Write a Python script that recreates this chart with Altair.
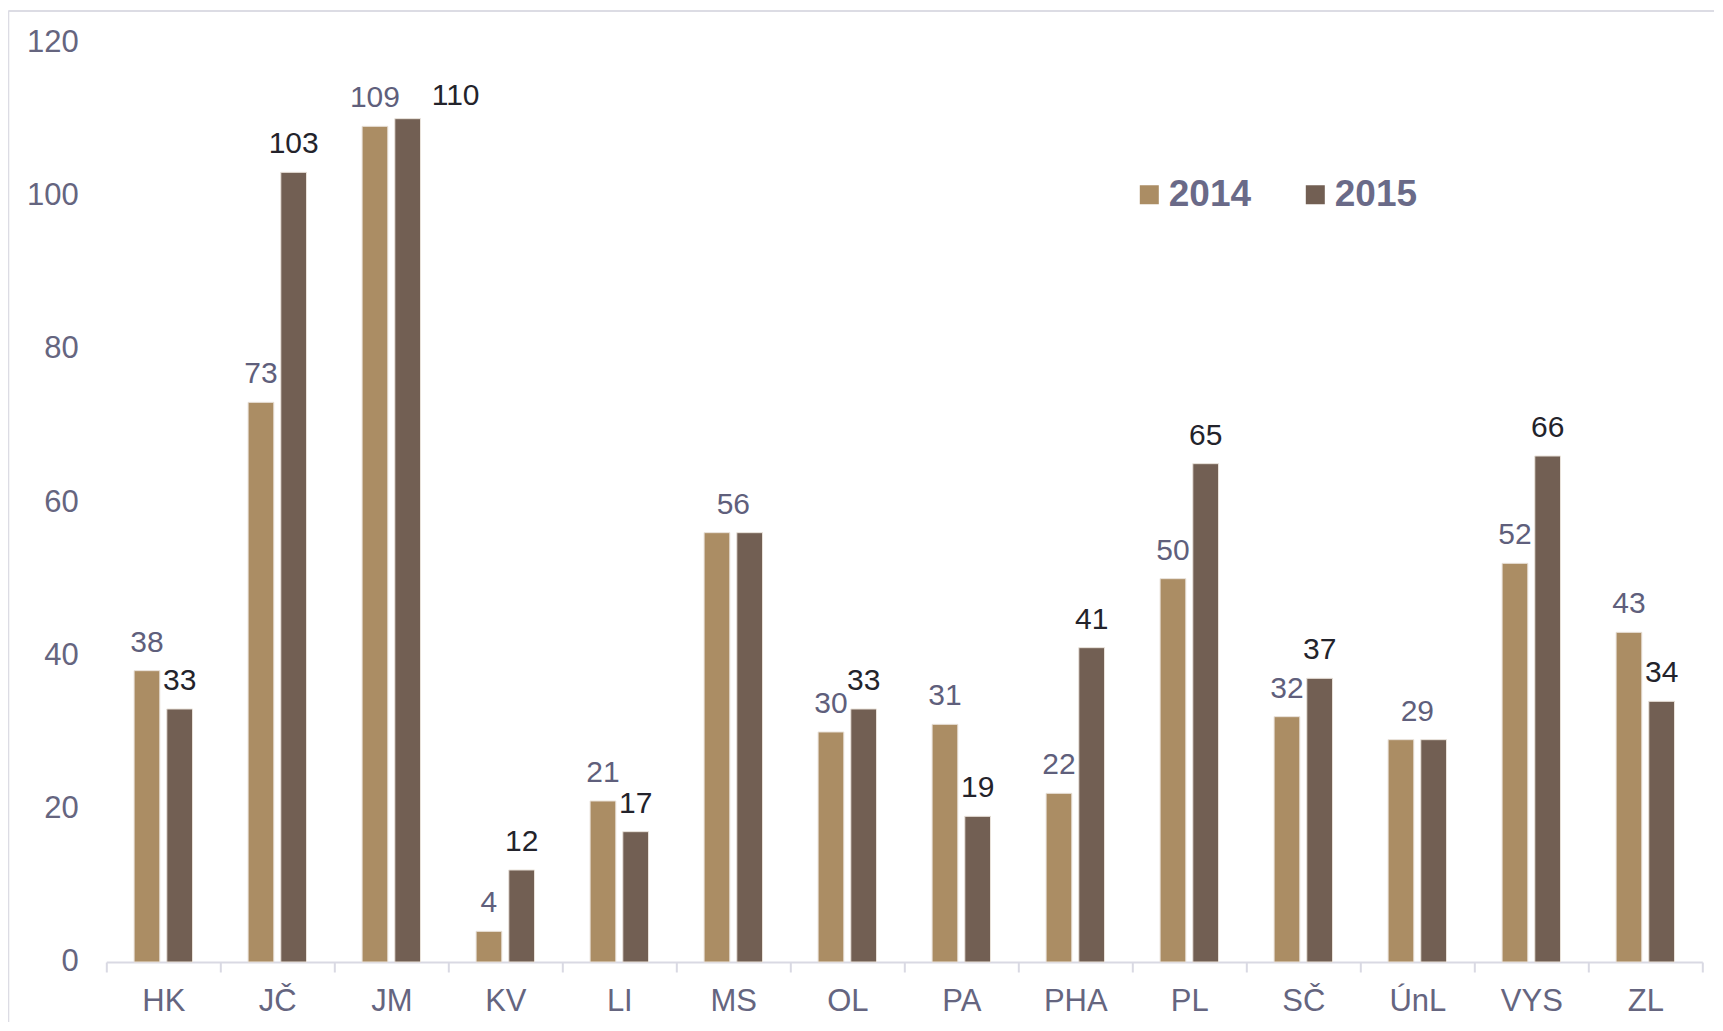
import altair as alt
import pandas as pd

# ---- data ----
regions = ["HK", "JČ", "JM", "KV", "LI", "MS", "OL", "PA", "PHA", "PL", "SČ", "ÚnL", "VYS", "ZL"]
years = ["2014", "2015"]
values_2014 = [38, 73, 109, 4, 21, 56, 30, 31, 22, 50, 32, 29, 52, 43]
values_2015 = [33, 103, 110, 12, 17, 56, 33, 19, 41, 65, 37, 29, 66, 34]
y_ticks = [0, 20, 40, 60, 80, 100, 120]

# regions where only one label is shown, centred over the pair
merged_label_regions = ["MS", "ÚnL"]
# label that sits beside its bar
shifted_label_region = "JM"

df = pd.DataFrame({
    "region": regions * 2,
    "year": [years[0]] * len(regions) + [years[1]] * len(regions),
    "value": values_2014 + values_2015,
})

# ---- styles ----
FONT = "Liberation Sans"
C2014 = "#AB8D64"
C2015 = "#725F53"
AXIS_TXT = "#65657F"
LBL2014 = "#5F5F7C"
LBL2015 = "#23232B"
FRAME = "#DCDCE4"
LINE = "#D9D9E3"

x_enc = alt.X("region:N", sort=regions,
              scale=alt.Scale(paddingInner=0, paddingOuter=0),
              axis=alt.Axis(title=None, labelAngle=0, domainColor=LINE, domainWidth=2,
                            tickColor=LINE, tickWidth=2, tickSize=10, tickBand="extent",
                            labelFontSize=31, labelPadding=15, labelColor=AXIS_TXT,
                            labelFont=FONT, grid=False))
xo_enc = alt.XOffset("year:N", sort=years,
                     scale=alt.Scale(paddingInner=0.214, paddingOuter=0.85))
y_enc = alt.Y("value:Q",
              scale=alt.Scale(domain=[0, 120], nice=False, zero=True),
              axis=alt.Axis(title=None, values=y_ticks, domain=False, ticks=False, grid=False,
                            labelFontSize=31, labelColor=AXIS_TXT, labelPadding=28,
                            labelFont=FONT))

base = alt.Chart(df)

bars = base.mark_bar(stroke="#E9E2DA", strokeWidth=1).encode(
    x=x_enc, xOffset=xo_enc, y=y_enc,
    color=alt.Color("year:N", sort=years,
                    scale=alt.Scale(domain=years, range=[C2014, C2015]),
                    legend=alt.Legend(title=None, orient="none", legendX=1024.5, legendY=134,
                                      direction="horizontal", symbolType="square",
                                      symbolSize=361, symbolStrokeWidth=0,
                                      labelFontSize=37, labelFontWeight="bold",
                                      labelColor="#6A6A88", labelFont=FONT,
                                      labelOffset=1, columnPadding=45, padding=0)),
)

is_merged = alt.FieldOneOfPredicate(field="region", oneOf=merged_label_regions)

lab14 = base.transform_filter(alt.datum.year == "2014").transform_filter(
    {"not": is_merged}
).mark_text(dy=-19, baseline="alphabetic", fontSize=30, font=FONT, color=LBL2014).encode(
    x=alt.X("region:N", sort=regions), xOffset=alt.XOffset("year:N", sort=years),
    y="value:Q", text="value:Q")

lab15 = base.transform_filter(alt.datum.year == "2015").transform_filter(
    {"not": is_merged}
).transform_filter(alt.datum.region != shifted_label_region).mark_text(
    dy=-19, baseline="alphabetic", fontSize=30, font=FONT, color=LBL2015).encode(
    x=alt.X("region:N", sort=regions), xOffset=alt.XOffset("year:N", sort=years),
    y="value:Q", text="value:Q")

lab_shift = base.transform_filter(alt.datum.year == "2015").transform_filter(
    alt.datum.region == shifted_label_region
).mark_text(dx=48, dy=-14, baseline="alphabetic", fontSize=30, font=FONT, color=LBL2015).encode(
    x=alt.X("region:N", sort=regions), xOffset=alt.XOffset("year:N", sort=years),
    y="value:Q", text="value:Q")

lab_merged = base.transform_filter(alt.datum.year == "2014").transform_filter(
    is_merged
).mark_text(dy=-19, baseline="alphabetic", fontSize=30, font=FONT, color=LBL2014).encode(
    x=alt.X("region:N", sort=regions), y="value:Q", text="value:Q")

frame_df = pd.DataFrame({"k": [0]})
frame_top = alt.Chart(frame_df).mark_rule(color=FRAME, strokeWidth=2).encode(
    x=alt.value(-98), x2=alt.value(1610), y=alt.value(-31))
frame_left = alt.Chart(frame_df).mark_rule(color=FRAME, strokeWidth=2).encode(
    x=alt.value(-98), y=alt.value(-31), y2=alt.value(990))

chart = alt.layer(frame_top, frame_left, bars, lab14, lab15, lab_shift, lab_merged).properties(
    width=1596, height=920,
    padding={"left": 98.3, "top": 34, "right": 12, "bottom": 60},
    autosize=alt.AutoSizeParams(type="none"),
).configure(font=FONT, background="white").configure_view(stroke=None, strokeWidth=0)

chart.save("out.html", embed_options={"renderer": "svg", "actions": False})
